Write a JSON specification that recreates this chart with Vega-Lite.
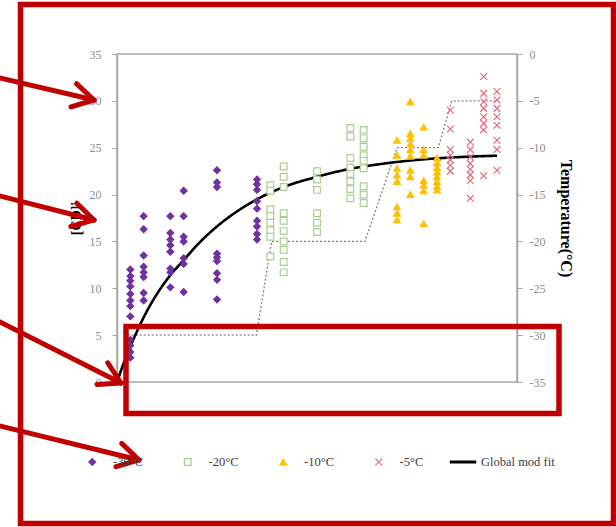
{
  "$schema": "https://vega.github.io/schema/vega-lite/v6.json",
  "width": 400,
  "height": 328,
  "autosize": {"type": "none"},
  "padding": {"left": 117, "top": 54, "right": 99, "bottom": 145},
  "background": "#ffffff",
  "config": {
    "font": "Liberation Serif",
    "view": {"stroke": "#a6a6a6", "strokeWidth": 1.5},
    "axis": {
      "grid": false,
      "labelFont": "Liberation Serif",
      "labelFontSize": 12,
      "labelColor": "#8c8c8c",
      "titleFont": "Liberation Serif",
      "titleFontWeight": "bold",
      "titleColor": "#000000",
      "labelFlush": false,
      "labelOverlap": false
    },
    "legend": {
      "labelFont": "Liberation Serif",
      "labelFontSize": 12.5,
      "labelColor": "#404040",
      "padding": 0
    }
  },
  "datasets": {
    "temperature": [
      {"day": 1, "temp": -30}, {"day": 20.9, "temp": -30},
      {"day": 23.2, "temp": -20}, {"day": 37.2, "temp": -20},
      {"day": 42, "temp": -10}, {"day": 48.2, "temp": -10},
      {"day": 50.2, "temp": -5}, {"day": 57, "temp": -5}
    ],
    "fit": [
      {"day": 0, "ccd": 0}, {"day": 1, "ccd": 2.0}, {"day": 2, "ccd": 3.8}, {"day": 3, "ccd": 5.4},
      {"day": 4, "ccd": 6.9}, {"day": 6, "ccd": 9.4}, {"day": 8, "ccd": 11.4}, {"day": 10, "ccd": 13.0},
      {"day": 12, "ccd": 14.6}, {"day": 15, "ccd": 16.6}, {"day": 18, "ccd": 18.2}, {"day": 21, "ccd": 19.5},
      {"day": 25, "ccd": 20.8}, {"day": 30, "ccd": 21.9}, {"day": 35, "ccd": 22.75}, {"day": 40, "ccd": 23.3},
      {"day": 45, "ccd": 23.7}, {"day": 50, "ccd": 23.95}, {"day": 57, "ccd": 24.15}
    ],
    "obs": [
      {"series": "-30°C", "day": 2, "ccd": 12.0}, {"series": "-30°C", "day": 2, "ccd": 11.3}, {"series": "-30°C", "day": 2, "ccd": 10.8},
      {"series": "-30°C", "day": 2, "ccd": 10.2}, {"series": "-30°C", "day": 2, "ccd": 9.4}, {"series": "-30°C", "day": 2, "ccd": 8.7},
      {"series": "-30°C", "day": 2, "ccd": 8.1}, {"series": "-30°C", "day": 2, "ccd": 7.0}, {"series": "-30°C", "day": 2, "ccd": 4.5},
      {"series": "-30°C", "day": 2, "ccd": 3.9}, {"series": "-30°C", "day": 2, "ccd": 3.2}, {"series": "-30°C", "day": 2, "ccd": 2.6},
      {"series": "-30°C", "day": 4, "ccd": 17.7}, {"series": "-30°C", "day": 4, "ccd": 16.3}, {"series": "-30°C", "day": 4, "ccd": 13.5},
      {"series": "-30°C", "day": 4, "ccd": 12.3}, {"series": "-30°C", "day": 4, "ccd": 11.7}, {"series": "-30°C", "day": 4, "ccd": 11.2},
      {"series": "-30°C", "day": 4, "ccd": 9.5}, {"series": "-30°C", "day": 4, "ccd": 8.7},
      {"series": "-30°C", "day": 8, "ccd": 17.7}, {"series": "-30°C", "day": 8, "ccd": 15.9}, {"series": "-30°C", "day": 8, "ccd": 15.2},
      {"series": "-30°C", "day": 8, "ccd": 14.6}, {"series": "-30°C", "day": 8, "ccd": 13.9}, {"series": "-30°C", "day": 8, "ccd": 12.1},
      {"series": "-30°C", "day": 8, "ccd": 11.7}, {"series": "-30°C", "day": 8, "ccd": 10.1},
      {"series": "-30°C", "day": 10, "ccd": 20.4}, {"series": "-30°C", "day": 10, "ccd": 17.7}, {"series": "-30°C", "day": 10, "ccd": 15.5},
      {"series": "-30°C", "day": 10, "ccd": 15.0}, {"series": "-30°C", "day": 10, "ccd": 13.2}, {"series": "-30°C", "day": 10, "ccd": 12.6},
      {"series": "-30°C", "day": 10, "ccd": 9.6},
      {"series": "-30°C", "day": 15, "ccd": 22.6}, {"series": "-30°C", "day": 15, "ccd": 21.3}, {"series": "-30°C", "day": 15, "ccd": 20.8},
      {"series": "-30°C", "day": 15, "ccd": 13.7}, {"series": "-30°C", "day": 15, "ccd": 13.3}, {"series": "-30°C", "day": 15, "ccd": 12.9},
      {"series": "-30°C", "day": 15, "ccd": 11.6}, {"series": "-30°C", "day": 15, "ccd": 10.9}, {"series": "-30°C", "day": 15, "ccd": 8.8},
      {"series": "-30°C", "day": 21, "ccd": 21.6}, {"series": "-30°C", "day": 21, "ccd": 21.1}, {"series": "-30°C", "day": 21, "ccd": 20.5},
      {"series": "-30°C", "day": 21, "ccd": 19.3}, {"series": "-30°C", "day": 21, "ccd": 18.5}, {"series": "-30°C", "day": 21, "ccd": 17.2},
      {"series": "-30°C", "day": 21, "ccd": 16.6}, {"series": "-30°C", "day": 21, "ccd": 15.8}, {"series": "-30°C", "day": 21, "ccd": 15.2},
      {"series": "-20°C", "day": 23, "ccd": 21.0}, {"series": "-20°C", "day": 23, "ccd": 20.4}, {"series": "-20°C", "day": 23, "ccd": 18.4},
      {"series": "-20°C", "day": 23, "ccd": 17.7}, {"series": "-20°C", "day": 23, "ccd": 17.0}, {"series": "-20°C", "day": 23, "ccd": 16.2},
      {"series": "-20°C", "day": 23, "ccd": 15.5}, {"series": "-20°C", "day": 23, "ccd": 13.4},
      {"series": "-20°C", "day": 25, "ccd": 23.0}, {"series": "-20°C", "day": 25, "ccd": 21.9}, {"series": "-20°C", "day": 25, "ccd": 20.8},
      {"series": "-20°C", "day": 25, "ccd": 18.0}, {"series": "-20°C", "day": 25, "ccd": 17.2}, {"series": "-20°C", "day": 25, "ccd": 16.1},
      {"series": "-20°C", "day": 25, "ccd": 15.0}, {"series": "-20°C", "day": 25, "ccd": 14.1}, {"series": "-20°C", "day": 25, "ccd": 12.8},
      {"series": "-20°C", "day": 25, "ccd": 11.7},
      {"series": "-20°C", "day": 30, "ccd": 22.5}, {"series": "-20°C", "day": 30, "ccd": 21.6}, {"series": "-20°C", "day": 30, "ccd": 20.5},
      {"series": "-20°C", "day": 30, "ccd": 18.0}, {"series": "-20°C", "day": 30, "ccd": 17.0}, {"series": "-20°C", "day": 30, "ccd": 16.0},
      {"series": "-20°C", "day": 35, "ccd": 27.1}, {"series": "-20°C", "day": 35, "ccd": 26.2}, {"series": "-20°C", "day": 35, "ccd": 23.9},
      {"series": "-20°C", "day": 35, "ccd": 22.9}, {"series": "-20°C", "day": 35, "ccd": 22.2}, {"series": "-20°C", "day": 35, "ccd": 21.4},
      {"series": "-20°C", "day": 35, "ccd": 20.6}, {"series": "-20°C", "day": 35, "ccd": 19.6},
      {"series": "-20°C", "day": 37, "ccd": 26.9}, {"series": "-20°C", "day": 37, "ccd": 26.0}, {"series": "-20°C", "day": 37, "ccd": 25.1},
      {"series": "-20°C", "day": 37, "ccd": 24.2}, {"series": "-20°C", "day": 37, "ccd": 23.6}, {"series": "-20°C", "day": 37, "ccd": 22.8},
      {"series": "-20°C", "day": 37, "ccd": 20.9}, {"series": "-20°C", "day": 37, "ccd": 20.0}, {"series": "-20°C", "day": 37, "ccd": 19.1},
      {"series": "-10°C", "day": 42, "ccd": 25.8}, {"series": "-10°C", "day": 42, "ccd": 24.2}, {"series": "-10°C", "day": 42, "ccd": 22.8},
      {"series": "-10°C", "day": 42, "ccd": 22.1}, {"series": "-10°C", "day": 42, "ccd": 21.4}, {"series": "-10°C", "day": 42, "ccd": 18.7},
      {"series": "-10°C", "day": 42, "ccd": 18.0}, {"series": "-10°C", "day": 42, "ccd": 17.3},
      {"series": "-10°C", "day": 44, "ccd": 29.9}, {"series": "-10°C", "day": 44, "ccd": 26.5}, {"series": "-10°C", "day": 44, "ccd": 26.0},
      {"series": "-10°C", "day": 44, "ccd": 25.4}, {"series": "-10°C", "day": 44, "ccd": 24.8}, {"series": "-10°C", "day": 44, "ccd": 24.1},
      {"series": "-10°C", "day": 44, "ccd": 22.6}, {"series": "-10°C", "day": 44, "ccd": 21.9}, {"series": "-10°C", "day": 44, "ccd": 20.0},
      {"series": "-10°C", "day": 46, "ccd": 27.2}, {"series": "-10°C", "day": 46, "ccd": 24.8}, {"series": "-10°C", "day": 46, "ccd": 24.2},
      {"series": "-10°C", "day": 46, "ccd": 21.5}, {"series": "-10°C", "day": 46, "ccd": 21.0}, {"series": "-10°C", "day": 46, "ccd": 20.4},
      {"series": "-10°C", "day": 46, "ccd": 16.9},
      {"series": "-10°C", "day": 48, "ccd": 23.9}, {"series": "-10°C", "day": 48, "ccd": 23.4}, {"series": "-10°C", "day": 48, "ccd": 22.9},
      {"series": "-10°C", "day": 48, "ccd": 22.4}, {"series": "-10°C", "day": 48, "ccd": 21.9}, {"series": "-10°C", "day": 48, "ccd": 21.4},
      {"series": "-10°C", "day": 48, "ccd": 20.9}, {"series": "-10°C", "day": 48, "ccd": 20.5},
      {"series": "-5°C", "day": 50, "ccd": 29.0}, {"series": "-5°C", "day": 50, "ccd": 27.0}, {"series": "-5°C", "day": 50, "ccd": 24.8},
      {"series": "-5°C", "day": 50, "ccd": 24.2}, {"series": "-5°C", "day": 50, "ccd": 23.7}, {"series": "-5°C", "day": 50, "ccd": 23.1},
      {"series": "-5°C", "day": 50, "ccd": 22.5},
      {"series": "-5°C", "day": 53, "ccd": 25.6}, {"series": "-5°C", "day": 53, "ccd": 24.8}, {"series": "-5°C", "day": 53, "ccd": 24.0},
      {"series": "-5°C", "day": 53, "ccd": 23.3}, {"series": "-5°C", "day": 53, "ccd": 22.7}, {"series": "-5°C", "day": 53, "ccd": 22.1},
      {"series": "-5°C", "day": 53, "ccd": 21.5}, {"series": "-5°C", "day": 53, "ccd": 19.6},
      {"series": "-5°C", "day": 55, "ccd": 32.6}, {"series": "-5°C", "day": 55, "ccd": 30.8}, {"series": "-5°C", "day": 55, "ccd": 29.9},
      {"series": "-5°C", "day": 55, "ccd": 29.2}, {"series": "-5°C", "day": 55, "ccd": 28.3}, {"series": "-5°C", "day": 55, "ccd": 27.6},
      {"series": "-5°C", "day": 55, "ccd": 26.9}, {"series": "-5°C", "day": 55, "ccd": 22.0},
      {"series": "-5°C", "day": 57, "ccd": 31.0}, {"series": "-5°C", "day": 57, "ccd": 30.1}, {"series": "-5°C", "day": 57, "ccd": 29.2},
      {"series": "-5°C", "day": 57, "ccd": 28.3}, {"series": "-5°C", "day": 57, "ccd": 27.4}, {"series": "-5°C", "day": 57, "ccd": 25.8},
      {"series": "-5°C", "day": 57, "ccd": 24.8}, {"series": "-5°C", "day": 57, "ccd": 22.6}
    ],
    "frames": [
      {"day": -14.475, "day2": 74.475, "ccd": 40.28, "ccd2": -15.1},
      {"day": 1.35, "day2": 66.3, "ccd": 5.92, "ccd2": -3.36}
    ],
    "arrows": [
      {"day": -18.45, "ccd": 32.59, "day2": -3.45, "ccd2": 30.09},
      {"day": -6.075, "ccd": 31.84, "day2": -3.45, "ccd2": 30.09},
      {"day": -6.9, "ccd": 29.36, "day2": -3.45, "ccd2": 30.09},
      {"day": -18.45, "ccd": 20.01, "day2": -3.45, "ccd2": 17.29},
      {"day": -6.03, "ccd": 19.08, "day2": -3.45, "ccd2": 17.29},
      {"day": -6.915, "ccd": 16.59, "day2": -3.45, "ccd2": 17.29},
      {"day": -18.45, "ccd": 6.72, "day2": 0.6, "ccd2": -0.107},
      {"day": -1.38, "ccd": 2.04, "day2": 0.6, "ccd2": -0.107},
      {"day": -3.0, "ccd": -0.256, "day2": 0.6, "ccd2": -0.107},
      {"day": -18.45, "ccd": -4.54, "day2": 3.3, "ccd2": -8.32},
      {"day": 0.705, "ccd": -6.55, "day2": 3.3, "ccd2": -8.32},
      {"day": -0.15, "ccd": -9.04, "day2": 3.3, "ccd2": -8.32}
    ]
  },
  "layer": [
    {
      "data": {"name": "temperature"},
      "mark": {"type": "line", "stroke": "#7f7f7f", "strokeWidth": 1.3, "strokeDash": [2, 2]},
      "encoding": {
        "x": {"field": "day", "type": "quantitative", "scale": {"domain": [0, 60], "nice": false}, "axis": null},
        "y": {
          "field": "temp",
          "type": "quantitative",
          "scale": {"domain": [-35, 0], "nice": false},
          "axis": {
            "orient": "right",
            "values": [-35, -30, -25, -20, -15, -10, -5, 0],
            "labelExpr": "toString(datum.value)",
            "domainColor": "#a6a6a6",
            "domainWidth": 1.5,
            "tickColor": "#a6a6a6",
            "tickSize": 5,
            "labelPadding": 7,
            "title": "Temperature(°C)",
            "titleFontSize": 16,
            "titlePadding": 13
          }
        }
      }
    },
    {
      "encoding": {
        "x": {
          "field": "day",
          "type": "quantitative",
          "scale": {"domain": [0, 60], "nice": false},
          "axis": {
            "values": [0, 10, 20, 30, 40, 50, 60],
            "domainColor": "#404040",
            "domainWidth": 1.5,
            "tickColor": "#404040",
            "tickSize": 4,
            "labelPadding": 12,
            "title": "Time (days)",
            "titleFontSize": 16,
            "titlePadding": 11
          }
        },
        "y": {
          "field": "ccd",
          "type": "quantitative",
          "scale": {"domain": [0, 35], "nice": false},
          "axis": {
            "orient": "left",
            "values": [0, 5, 10, 15, 20, 25, 30, 35],
            "domainColor": "#a6a6a6",
            "domainWidth": 1.5,
            "tickColor": "#a6a6a6",
            "tickSize": 5,
            "labelPadding": 11,
            "title": "[CD]'",
            "titleFontSize": 14,
            "titlePadding": 6
          }
        }
      },
      "layer": [
        {
          "data": {"name": "fit"},
          "mark": {"type": "line", "stroke": "#000000", "strokeWidth": 2.6, "interpolate": "monotone"},
          "encoding": {
            "strokeDash": {
              "datum": "Global mod fit",
              "type": "nominal",
              "scale": {"domain": ["Global mod fit"], "range": [[1, 0]]},
              "legend": {
                "title": null,
                "orient": "none",
                "legendX": 331,
                "legendY": 393,
                "symbolType": "stroke",
                "symbolSize": 700,
                "symbolStrokeWidth": 3,
                "symbolStrokeColor": "#000000",
                "labelOffset": 3
              }
            }
          }
        },
        {
          "data": {"name": "obs"},
          "mark": {"type": "point", "size": 45, "strokeWidth": 1.2, "opacity": 1},
          "encoding": {
            "shape": {
              "field": "series",
              "type": "nominal",
              "scale": {
                "domain": ["-30°C", "-20°C", "-10°C", "-5°C"],
                "range": ["diamond", "square", "triangle-up", "M-1,-1L1,1M-1,1L1,-1"]
              },
              "legend": {
                "title": null,
                "orient": "none",
                "legendX": -31,
                "legendY": 401.75,
                "direction": "horizontal",
                "columns": 4,
                "gridAlign": "none",
                "columnPadding": 38.5,
                "symbolSize": 45,
                "symbolStrokeWidth": 1.2,
                "labelOffset": 14.5
              }
            },
            "fill": {
              "field": "series",
              "type": "nominal",
              "scale": {
                "domain": ["-30°C", "-20°C", "-10°C", "-5°C"],
                "range": ["#7030a0", "#ffffff", "#ffc000", "transparent"]
              },
              "legend": {
                "title": null,
                "orient": "none",
                "legendX": -31,
                "legendY": 401.75,
                "direction": "horizontal",
                "columns": 4,
                "gridAlign": "none",
                "columnPadding": 38.5,
                "symbolSize": 45,
                "symbolStrokeWidth": 1.2,
                "labelOffset": 14.5
              }
            },
            "stroke": {
              "field": "series",
              "type": "nominal",
              "scale": {
                "domain": ["-30°C", "-20°C", "-10°C", "-5°C"],
                "range": ["#7030a0", "#a9cf8f", "#ffc000", "#e46c78"]
              },
              "legend": {
                "title": null,
                "orient": "none",
                "legendX": -31,
                "legendY": 401.75,
                "direction": "horizontal",
                "columns": 4,
                "gridAlign": "none",
                "columnPadding": 38.5,
                "symbolSize": 45,
                "symbolStrokeWidth": 1.2,
                "labelOffset": 14.5
              }
            }
          }
        },
        {
          "data": {"name": "frames"},
          "mark": {"type": "rect", "filled": false, "stroke": "#c00000", "strokeWidth": 5.5, "fill": null},
          "encoding": {
            "x2": {"field": "day2"},
            "y2": {"field": "ccd2"}
          }
        },
        {
          "data": {"name": "arrows"},
          "mark": {"type": "rule", "stroke": "#c00000", "strokeWidth": 5, "strokeCap": "round"},
          "encoding": {
            "x2": {"field": "day2"},
            "y2": {"field": "ccd2"}
          }
        }
      ]
    }
  ],
  "resolve": {"scale": {"y": "independent"}, "axis": {"y": "independent"}}
}
